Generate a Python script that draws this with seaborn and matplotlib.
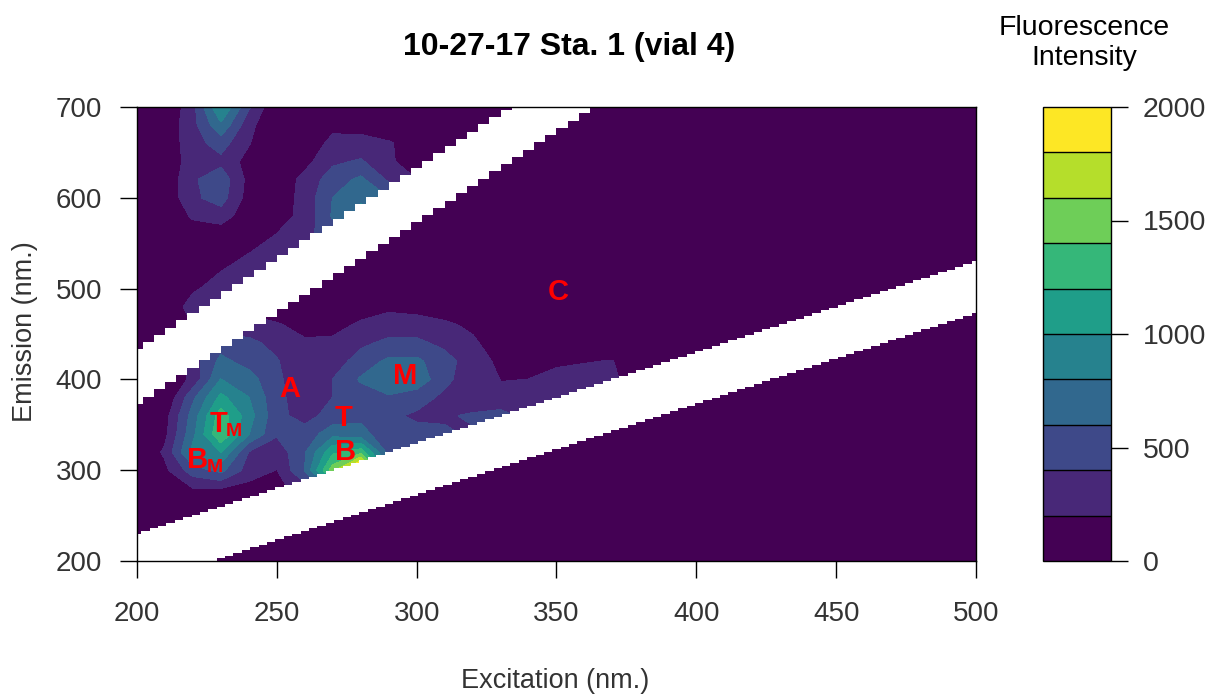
import matplotlib
matplotlib.use('Agg')
import matplotlib.pyplot as plt
import numpy as np
import seaborn as sns

excitation = [200, 210, 220, 230, 240, 250, 260, 270, 280, 290, 300, 310, 320, 330, 340, 350, 360, 370, 380]
emission = [700, 680, 660, 640, 620, 600, 580, 560, 540, 520, 500, 480, 460, 440, 420, 400, 380, 360, 340, 320, 300, 280, 260, 240, 220, 200]

# fluorescence, one row per emission value
intensity = [
    [0, 0, 330, 1000, 420, 0, 0, 0, 0, 0, 0, 0, 0, 0, 0, 0, 0, 0, 0],
    [0, 60, 330, 750, 260, 0, 0, 150, 120, 40, 0, 0, 0, 0, 0, 0, 0, 0, 0],
    [0, 50, 320, 480, 210, 0, 70, 250, 270, 220, 90, 0, 0, 0, 0, 0, 0, 0, 0],
    [0, 40, 300, 340, 120, 30, 130, 360, 420, 240, 60, 0, 0, 0, 0, 0, 0, 0, 0],
    [0, 30, 370, 520, 130, 50, 260, 500, 640, 360, 200, 50, 0, 0, 0, 0, 0, 0, 0],
    [0, 30, 360, 480, 110, 70, 270, 600, 790, 600, 300, 0, 0, 0, 0, 0, 0, 0, 0],
    [0, 0, 230, 300, 60, 110, 260, 620, 820, 700, 200, 0, 0, 0, 0, 0, 0, 0, 0],
    [0, 0, 70, 70, 90, 200, 340, 500, 300, 100, 0, 0, 0, 0, 0, 0, 0, 0, 0],
    [0, 0, 0, 50, 190, 300, 200, 60, 0, 0, 0, 0, 0, 0, 0, 0, 0, 0, 0],
    [0, 0, 30, 190, 300, 200, 0, 0, 0, 0, 0, 0, 0, 0, 0, 0, 0, 0, 0],
    [0, 0, 160, 300, 200, 0, 0, 0, 0, 0, 0, 0, 0, 0, 0, 0, 0, 0, 0],
    [0, 0, 300, 200, 100, 60, 0, 0, 100, 150, 120, 60, 0, 0, 0, 0, 0, 0, 0],
    [0, 0, 200, 280, 300, 220, 120, 130, 230, 300, 290, 240, 150, 0, 0, 0, 0, 0, 0],
    [0, 0, 240, 500, 440, 350, 230, 240, 360, 440, 440, 350, 240, 60, 0, 0, 0, 0, 0],
    [0, 0, 300, 650, 520, 410, 270, 300, 480, 640, 640, 470, 300, 150, 120, 170, 190, 205, 0],
    [0, 0, 250, 800, 680, 430, 290, 400, 620, 790, 740, 440, 300, 195, 200, 250, 260, 260, 0],
    [0, 0, 550, 1050, 800, 450, 290, 400, 500, 560, 470, 360, 280, 230, 230, 220, 200, 100, 0],
    [0, 110, 680, 1300, 880, 450, 330, 470, 560, 430, 370, 380, 420, 480, 300, 200, 100, 0, 0],
    [0, 140, 740, 1380, 800, 420, 470, 720, 650, 500, 450, 420, 380, 300, 150, 50, 0, 0, 0],
    [0, 230, 850, 1000, 380, 280, 570, 1150, 1300, 500, 400, 300, 150, 50, 0, 0, 0, 0, 0],
    [0, 150, 500, 650, 300, 190, 600, 1500, 2300, 800, 300, 100, 0, 0, 0, 0, 0, 0, 0],
    [0, 0, 190, 190, 130, 130, 300, 800, 600, 200, 0, 0, 0, 0, 0, 0, 0, 0, 0],
    [0] * 19,
    [0] * 19,
    [0] * 19,
    [0] * 19,
]

levels = [0, 200, 400, 600, 800, 1000, 1200, 1400, 1600, 1800, 2000]
x_ticks = [200, 250, 300, 350, 400, 450, 500]
y_ticks = [200, 300, 400, 500, 600, 700]
bar_ticks = [0, 500, 1000, 1500, 2000]

# scatter bands that were cut out of the matrix
first_ex = np.arange(200, 503, 3)
second_ex = np.arange(200, 372, 4)
first_order = [-27, 30]
second_order = [-27, 33]

peak_names = ['C', 'M', 'A', 'T', 'B', 'T', 'B']
peak_ex = [350.5, 295.8, 254.7, 274, 274.7, 229, 221.8]
peak_em = [496, 404, 389, 357.5, 320, 351, 311]
sub_ex = [234.5, 228]
sub_em = [343, 303.5]

sns.set_theme(style='ticks')
plt.rcParams['font.family'] = ['Liberation Sans', 'DejaVu Sans']
W, H = 1211, 694
fig = plt.figure(figsize=(W / 100, H / 100), dpi=100)
ax = fig.add_axes([137 / W, 1 - 561 / H, 839 / W, 454 / H])
cax = fig.add_axes([1043 / W, 1 - 561 / H, 68 / W, 454 / H])

viridis = plt.get_cmap('viridis').resampled(10)
colors = [viridis(i) for i in range(10)]

ex = excitation + [500]
values = np.column_stack([np.array(intensity, dtype=float), np.zeros(len(emission))])
filled = ax.contourf(ex, emission, values, levels=levels, colors=colors)
filled.set_edgecolor('face')
filled.set_linewidth(0.6)

ax.fill_between(first_ex, first_ex + first_order[0], first_ex + first_order[1], step='mid', color='white', lw=0)
ax.fill_between(second_ex, 2 * second_ex + second_order[0], 2 * second_ex + second_order[1], step='mid', color='white', lw=0)

ax.set_xlim(200, 500)
ax.set_ylim(200, 700)
ax.set_xticks(x_ticks)
ax.set_yticks(y_ticks)
ax.tick_params(length=12, width=1, labelsize=20, color='black', labelcolor='#333333')
ax.tick_params(axis='x', pad=17)
ax.tick_params(axis='y', pad=13)
ax.set_xlabel('Excitation (nm.)', fontsize=19.5, color='#333333')
ax.xaxis.set_label_coords(0.498, -0.235)
ax.set_ylabel('Emission (nm.)', fontsize=19.5, color='#333333')
ax.yaxis.set_label_coords(-0.118, 0.505)
for side in ax.spines.values():
    side.set_color('black')
    side.set_linewidth(1)

for name, x, y in zip(peak_names, peak_ex, peak_em):
    ax.text(x, y, name, color='red', fontsize=21, fontweight='bold', ha='center', va='center')
for x, y in zip(sub_ex, sub_em):
    ax.text(x, y, 'M', color='red', fontsize=14, fontweight='bold', ha='center', va='center')

bar = fig.colorbar(filled, cax=cax, drawedges=True, ticks=bar_ticks)
bar.dividers.set_color('black')
bar.dividers.set_linewidth(1)
bar.outline.set_edgecolor('black')
bar.outline.set_linewidth(1)
cax.tick_params(length=12, width=1, labelsize=20.5, color='black', labelcolor='#333333', pad=11)

fig.text(569 / W, 1 - 47 / H, '10-27-17 Sta. 1 (vial 4)', fontsize=23, fontweight='bold',
         ha='center', va='center', color='black')
fig.text(1084 / W, 1 - 43 / H, 'Fluorescence\nIntensity', fontsize=20.5, ha='center', va='center',
         color='black', linespacing=1.2)

fig.savefig('out.png', dpi=100)
